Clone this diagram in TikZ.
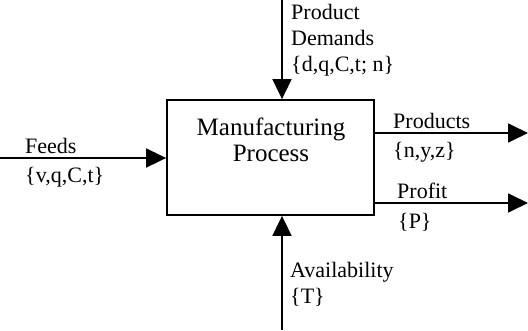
\documentclass[tikz,border=0pt]{standalone}
\usepackage{fontspec}
\setmainfont{Liberation Serif}
\usetikzlibrary{arrows.meta}
\usetikzlibrary{positioning}
\tikzset{procbox/.style={draw, line width=1.8pt, minimum width=207pt, minimum height=115pt}}
\tikzset{flow/.style={line width=1.8pt, -{Triangle[length=20pt,width=19pt]}}}
\tikzset{lbl/.style={inner sep=0pt, font=\fontsize{22}{26}\selectfont}}

\begin{document}
\begin{tikzpicture}[x=1pt, y=-1pt]

\useasboundingbox (0,0) rectangle (528,330);

\node[procbox] (proc) at (270.5,157.5) {};
\node[lbl, font=\fontsize{25}{26}\selectfont, align=center] (proctext) at (271,140) {Manufacturing\\Process};

\coordinate (feedin) at (0,158);
\coordinate (demtop) at (282,0);
\coordinate (availbot) at (282,330);
\coordinate (prodout) at (528,133);
\coordinate (profout) at (528,203);

\draw[flow] (feedin) -- (proc.west |- feedin);
\draw[flow] (demtop) -- (proc.north -| demtop);
\draw[flow] (availbot) -- (proc.south -| availbot);
\draw[flow] (proc.east |- prodout) -- (prodout);
\draw[flow] (proc.east |- profout) -- (profout);

\node[lbl, anchor=west] (feeds) at (25,146) {Feeds};
\node[lbl, anchor=west] (feedvars) at (25,177) {\{v,q,C,t\}};

\node[lbl, anchor=north west, align=left] (demands) at (291,4) {Product\\Demands\\\{d,q,C,t; n\}};

\node[lbl, anchor=west] (products) at (393,121) {Products};
\node[lbl, anchor=west] (prodvars) at (393,152) {\{n,y,z\}};

\node[lbl, anchor=west] (profit) at (397,191) {Profit};
\node[lbl, anchor=west] (profvars) at (398,222) {\{P\}};

\node[lbl, anchor=north west, align=left] (avail) at (290,262) {Availability\\\{T\}};

\end{tikzpicture}
\end{document}
